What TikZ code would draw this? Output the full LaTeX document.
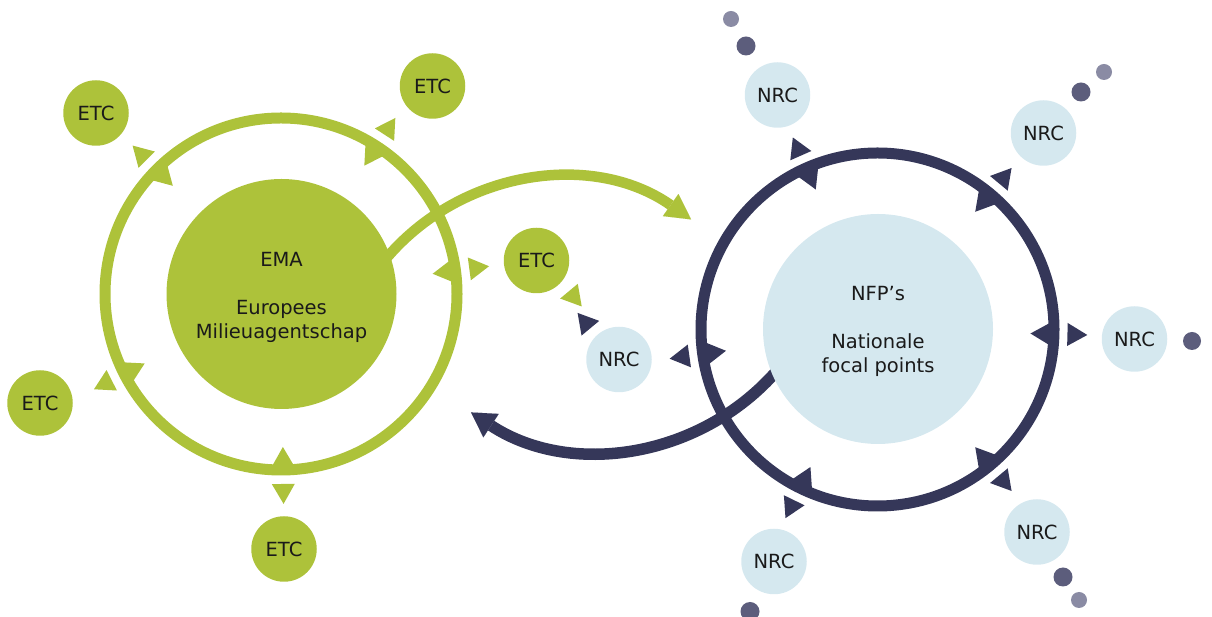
\documentclass[tikz,border=0pt]{standalone}
\usepackage{fontspec}
\setmainfont{DejaVu Sans}
\usetikzlibrary{arrows.meta,calc}
\definecolor{egreen}{HTML}{ADC23A}
\definecolor{navy}{HTML}{353759}
\definecolor{lblue}{HTML}{D5E8EF}
\definecolor{dotdark}{HTML}{5C5D7C}
\definecolor{dotlight}{HTML}{8A8BA4}
\definecolor{txtc}{HTML}{1A1A1A}
\newcommand\spokes[3]{%
  \begin{scope}[shift={(#1)},rotate=#2]
    \fill[#3] (153,0) -- (173.8,12) -- (173.8,-12) -- cycle;
    \fill[#3] (209.9,0) -- (190,11.5) -- (190,-11.5) -- cycle;
  \end{scope}}
\begin{document}
\begin{tikzpicture}[x=1pt,y=1pt,
  txt/.style={font=\fontsize{19.5pt}{24pt}\selectfont, text=txtc, align=center},
  big/.style={circle, minimum size=230pt, inner sep=0pt},
  small/.style={circle, minimum size=65.5pt, inner sep=0pt, txt},
  etc/.style={small, fill=egreen},
  nrc/.style={small, fill=lblue},
  ringline/.style={line width=11pt}]
\useasboundingbox (0,0) rectangle (1212,617);
\coordinate (G) at (281,323);
\coordinate (D) at (877.5,287.5);
\coordinate (gac) at (560,211);
\coordinate (dac) at (600,401);

% connecting arcs
\draw[egreen, line width=10.5pt, -{Triangle[length=25pt,width=27pt,line width=0.01pt]}]
  ($(gac)+(142:228)$) arc[start angle=142, end angle=54.9, radius=228];
\draw[navy, line width=11.5pt, -{Triangle[length=24pt,width=28pt,line width=0.01pt]}]
  ($(dac)+(-38:235)$) arc[start angle=-38, end angle=-123.3, radius=235];

% rings
\draw[egreen, ringline] (G) circle[radius=176];
\draw[navy, ringline] (D) circle[radius=176.5];

% big circles
\node[big, fill=egreen] (ema) at (281.5,323) {};
\node[txt] (ematxt) at ([yshift=-3pt]ema.center) {EMA\\[24pt]Europees\\Milieuagentschap};
\node[big, fill=lblue] (nfp) at (878,288) {};
\node[txt] (nfptxt) at ([yshift=-2.7pt]nfp.center) {NFP’s\\[24pt]Nationale\\focal points};

% small circles
\node[etc] (etc1) at (96,504) {ETC};
\node[etc] (etc2) at (432.5,531) {ETC};
\node[etc] (etc3) at (536.5,356.5) {ETC};
\node[etc] (etc4) at (40,214) {ETC};
\node[etc] (etc5) at (284,68) {ETC};
\node[nrc] (nrca) at (777.5,522) {NRC};
\node[nrc] (nrcb) at (1043.5,484) {NRC};
\node[nrc] (nrcc) at (1134.5,278) {NRC};
\node[nrc] (nrcd) at (619,257.5) {NRC};
\node[nrc] (nrce) at (1037,85) {NRC};
\node[nrc] (nrcf) at (774,55.5) {NRC};

% dots
\fill[dotdark] (746,571) circle[radius=9.5];
\fill[dotlight] (731,598) circle[radius=8];
\fill[dotdark] (1081,525) circle[radius=9.5];
\fill[dotlight] (1104,545) circle[radius=8];
\fill[dotdark] (1192,276) circle[radius=9];
\fill[dotdark] (1063,40) circle[radius=9.5];
\fill[dotlight] (1079,17) circle[radius=8];
\fill[dotdark] (750,5.5) circle[radius=9.5];

% spoke arrowheads
\spokes{G}{135}{egreen}
\spokes{G}{57}{egreen}
\spokes{G}{7.6}{egreen}
\spokes{G}{207}{egreen}
\spokes{G}{-89.3}{egreen}
\spokes{D}{113.8}{navy}
\spokes{D}{50.3}{navy}
\spokes{D}{-1.5}{navy}
\spokes{D}{188}{navy}
\spokes{D}{-50.3}{navy}
\spokes{D}{-116}{navy}

% ETC -- NRC arrowheads
\begin{scope}[shift={(etc3)},rotate=-50.2]
  \fill[egreen] (64.3,5.3) -- (44.35,16.8) -- (44.35,-6.2) -- cycle;
\end{scope}
\begin{scope}[shift={(nrcd)},rotate=129.8]
  \fill[navy] (62.3,2) -- (42.35,13.5) -- (42.35,-9.5) -- cycle;
\end{scope}
\end{tikzpicture}
\end{document}
